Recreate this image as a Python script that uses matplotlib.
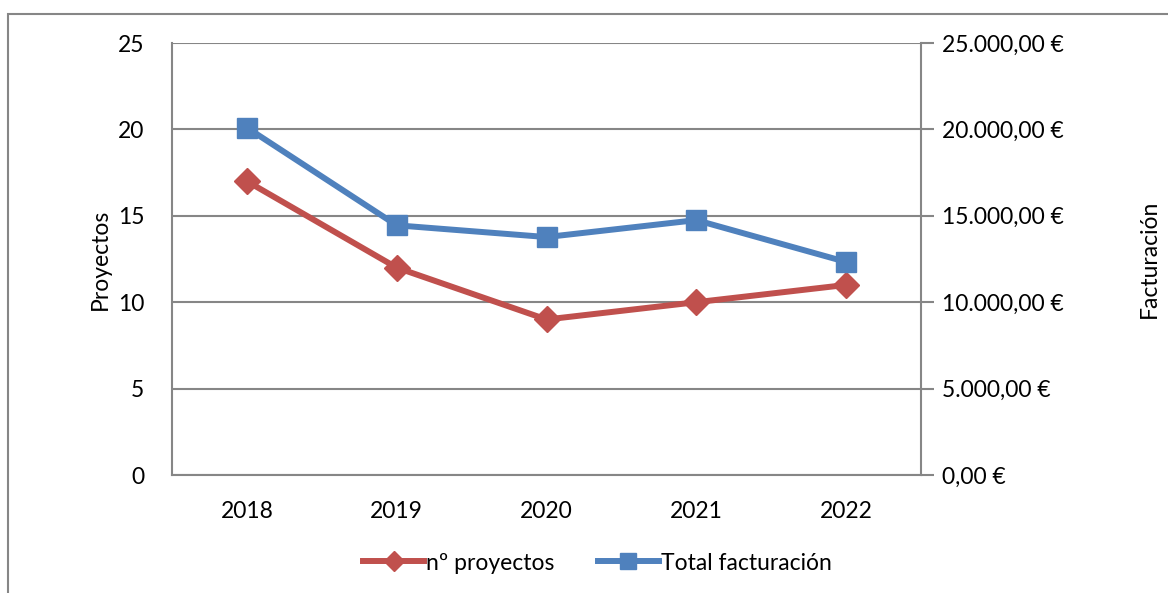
import matplotlib
matplotlib.use("Agg")
import matplotlib.pyplot as plt
from matplotlib.patches import Rectangle
from matplotlib.ticker import FuncFormatter

years = ["2018", "2019", "2020", "2021", "2022"]
proyectos = [17, 12, 9, 10, 11]
facturacion = [20100, 14450, 13770, 14750, 12330]

RED = "#C0504D"
BLUE = "#4F81BD"
GRID = "#868686"
FS = 16.5
plt.rcParams["font.family"] = ["Lato", "DejaVu Sans"]

fig = plt.figure(figsize=(11.68, 5.93), dpi=100)
W, H = 1168, 593
# outer chart border
fig.patches.append(Rectangle((8 / W, -0.1), 1.2, (593 - 14) / H + 0.1,
                             transform=fig.transFigure, fill=False,
                             edgecolor=GRID, linewidth=1.5))

ax = fig.add_axes([172 / W, (593 - 475) / H, (921 - 172) / W, (475 - 43) / H])
ax2 = ax.twinx()

x = list(range(len(years)))
ax.set_xlim(-0.5, len(years) - 0.5)
ax.set_ylim(0, 25)
ax.set_yticks([0, 5, 10, 15, 20, 25])
ax.yaxis.grid(True, color=GRID, linewidth=1.5)
ax.set_axisbelow(True)
ax.set_xticks(x)
ax.set_xticklabels(years)
ax.tick_params(axis="both", length=0, labelsize=FS, pad=20)
ax.tick_params(axis="x", pad=19)
for s in ["top", "right"]:
    ax.spines[s].set_visible(False)
for s in ["left", "bottom"]:
    ax.spines[s].set_color(GRID)
    ax.spines[s].set_linewidth(1.5)

ax2.set_ylim(0, 25000)
ax2.set_yticks([0, 5000, 10000, 15000, 20000, 25000])
ax2.yaxis.set_major_formatter(FuncFormatter(
    lambda v, p: f"{v:,.2f}".replace(",", "X").replace(".", ",").replace("X", ".") + " €"))
ax2.tick_params(axis="y", length=9, width=1.5, color=GRID, labelsize=FS, pad=6)
for s in ["top", "left", "bottom"]:
    ax2.spines[s].set_visible(False)
ax2.spines["right"].set_color(GRID)
ax2.spines["right"].set_linewidth(1.5)

l1, = ax.plot(x, proyectos, color=RED, linewidth=4.3, marker="D", markersize=13,
              label="nº proyectos", zorder=3)
l2, = ax2.plot(x, facturacion, color=BLUE, linewidth=4.3, marker="s", markersize=14,
               label="Total facturación", zorder=3)

ax.set_ylabel("Proyectos", fontsize=FS)
ax.yaxis.set_label_coords(-0.082, 0.5)
ax2.set_ylabel("Facturación", fontsize=FS)
ax2.yaxis.set_label_coords(1.291, 0.5)

fig.legend(handles=[l1, l2], loc="center", bbox_to_anchor=(597 / W, (593 - 563) / H),
           ncol=2, frameon=False, fontsize=FS, handlelength=2.7, handletextpad=0.05,
           columnspacing=1.9, markerscale=0.8)

fig.savefig("out.png", dpi=100)
